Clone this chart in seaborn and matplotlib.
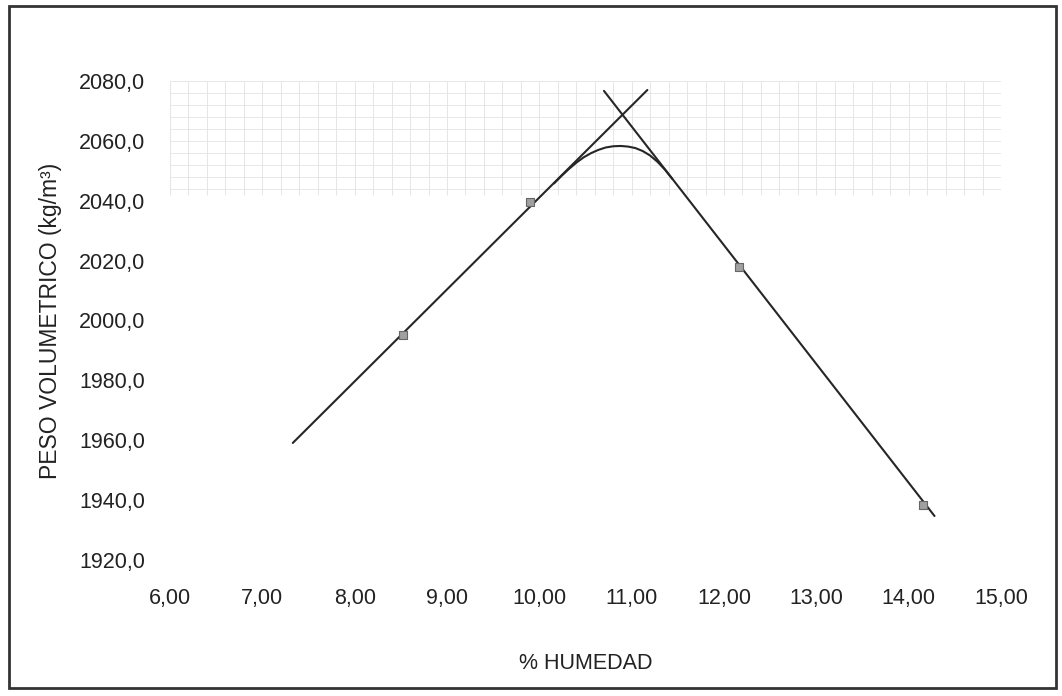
import matplotlib
matplotlib.use("Agg")
import matplotlib.pyplot as plt
import seaborn as sns
import numpy as np
import pandas as pd
from matplotlib.patches import Rectangle

# ---- data ----
# measured points (moisture %, dry density kg/m3)
pts_x = [8.52, 9.90, 12.16, 14.16]
pts_y = [1995.2, 2039.5, 2017.9, 1938.4]

# dry-side tangent line
left_x = [7.33, 11.17]
left_y = [1959.1, 2077.0]

# wet-side tangent line
right_x = [10.70, 14.28]
right_y = [2076.7, 1934.7]

# rounded compaction curve near the peak
curve_x = [10.16, 10.24, 10.32, 10.40, 10.48, 10.56, 10.64, 10.72, 10.80, 10.88,
           10.96, 11.04, 11.12, 11.20, 11.28, 11.36, 11.44]
curve_y = [2045.8, 2048.3, 2050.6, 2052.7, 2054.5, 2055.9, 2057.0, 2057.8, 2058.2, 2058.3,
           2058.1, 2057.6, 2056.6, 2055.1, 2053.0, 2050.4, 2047.3]

x_ticks = [6, 7, 8, 9, 10, 11, 12, 13, 14, 15]
y_ticks = [1920, 1940, 1960, 1980, 2000, 2020, 2040, 2060, 2080]

# faint background grid (visible in the scan, upper band)
grid_vx = [6.0 + 0.2 * i for i in range(46)]
grid_hy = [2080, 2076, 2072, 2068, 2064, 2060, 2056, 2052, 2048, 2044]

sns.set_theme(style="white")
plt.rcParams['font.family'] = ['Liberation Sans', 'DejaVu Sans']

fig = plt.figure(figsize=(10.62, 6.96), dpi=100)
ax = fig.add_axes([170/1062, 1 - 560/696, (1001-170)/1062, (560-81)/696])

# faint grid
ax.vlines(grid_vx, 2042, 2080, colors="#e2e2e2", linewidth=0.6, zorder=0)
ax.hlines(grid_hy, 6, 15, colors="#e4e4e4", linewidth=0.6, zorder=0)

line_kw = dict(color="#262626", linewidth=1.5, sort=False, estimator=None, ax=ax)
sns.lineplot(data=pd.DataFrame({"x": left_x, "y": left_y}), x="x", y="y", **line_kw)
sns.lineplot(data=pd.DataFrame({"x": right_x, "y": right_y}), x="x", y="y", **line_kw)
sns.lineplot(data=pd.DataFrame({"x": curve_x, "y": curve_y}), x="x", y="y", **line_kw)

sns.scatterplot(x=pts_x, y=pts_y, marker="s", s=26, color="#a0a0a0",
                edgecolor="#666666", linewidth=0.8, ax=ax, zorder=5)

ax.set_xlim(6, 15)
ax.set_ylim(1920, 2080)
ax.set_xticks(x_ticks)
ax.set_yticks(y_ticks)
ax.set_xticklabels([f"{v:.2f}".replace(".", ",") for v in x_ticks], fontsize=15.5, color="#222222")
ax.set_yticklabels([f"{v:.1f}".replace(".", ",") for v in y_ticks], fontsize=15.5, color="#222222")
ax.tick_params(axis="x", length=0, pad=20)
ax.tick_params(axis="y", length=0, pad=18)
for s in ax.spines.values():
    s.set_visible(False)
ax.set_xlabel("% HUMEDAD", fontsize=15.5, color="#222222", labelpad=32)
ax.set_ylabel("PESO VOLUMETRICO (kg/m³)", fontsize=16.5, color="#222222", labelpad=12)

# outer frame
fig.patches.append(Rectangle((9/1062, 1 - 688/696), (1056-9)/1062, (688-6)/696,
                             transform=fig.transFigure, fill=False,
                             edgecolor="#333333", linewidth=2))

fig.savefig("out.png", dpi=100)
